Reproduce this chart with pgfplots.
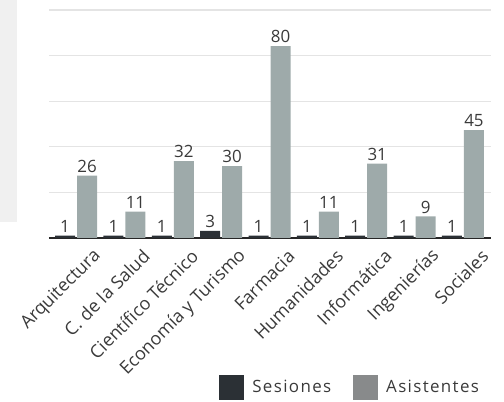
\documentclass[border=0pt]{standalone}
\usepackage{fontspec}
\setmainfont{Open Sans}
\newfontfamily\legfont{Open Sans}[LetterSpace=8]
\usepackage{pgfplots}
\pgfplotsset{compat=1.18}
\definecolor{sesc}{HTML}{2B3035}
\definecolor{asic}{HTML}{9EAAAA}
\definecolor{legg}{HTML}{888A8B}
\definecolor{txtc}{HTML}{3A3A3A}
\definecolor{gridc}{HTML}{E4E4E4}
\definecolor{panelc}{HTML}{F0F0F0}
\begin{document}
\begin{tikzpicture}
\useasboundingbox (0,0) rectangle (504bp,402bp);
\fill[panelc] (0,180bp) rectangle (17bp,402bp);
\begin{axis}[
  scale only axis,
  width=442bp, height=228bp,
  at={(49bp,164bp)}, anchor=south west,
  /pgf/number format/assume math mode=true,
  ybar=2bp, bar width=20bp,
  xmin=-0.56, xmax=8.58,
  ymin=0, ymax=95,
  ytick={0,19,38,57,76,95},
  yticklabels={},
  ymajorgrids,
  grid style={gridc, line width=1.3bp},
  axis line style={draw=none},
  major tick length=0pt,
  extra y ticks={0},
  extra y tick labels={},
  extra y tick style={grid style={black!85, line width=2.2bp}},
  xtick=data,
  xticklabels={Arquitectura, C. de la Salud, Científico Técnico, Economía y Turismo, Farmacia, Humanidades, Informática, Ingenierías, Sociales},
  xticklabel style={xshift=22bp, yshift=-15bp, rotate=45, anchor=east, font=\fontsize{18}{18}\selectfont, text=txtc, inner sep=0pt},
  nodes near coords,
  every node near coord/.append style={font=\fontsize{17}{17}\selectfont, text=txtc, inner sep=3bp},
  legend columns=2,
  legend style={at={(0.385,-0.601)}, anchor=north west, draw=none, fill=none, inner sep=0pt,
    font=\legfont\fontsize{17}{17}\selectfont, text=txtc,
    /tikz/every even column/.append style={column sep=20bp}},
  legend image code/.code={\path[#1] (0bp,-13bp) rectangle (25bp,12bp); \path (31bp,0bp);},
]
\addplot[fill=sesc, draw=none] coordinates {(0,1) (1,1) (2,1) (3,3) (4,1) (5,1) (6,1) (7,1) (8,1)};
\addplot[fill=asic, draw=none, legend image post style={fill=legg}] coordinates {(0,26) (1,11) (2,32) (3,30) (4,80) (5,11) (6,31) (7,9) (8,45)};
\legend{Sesiones, Asistentes}
\end{axis}
\end{tikzpicture}
\end{document}
